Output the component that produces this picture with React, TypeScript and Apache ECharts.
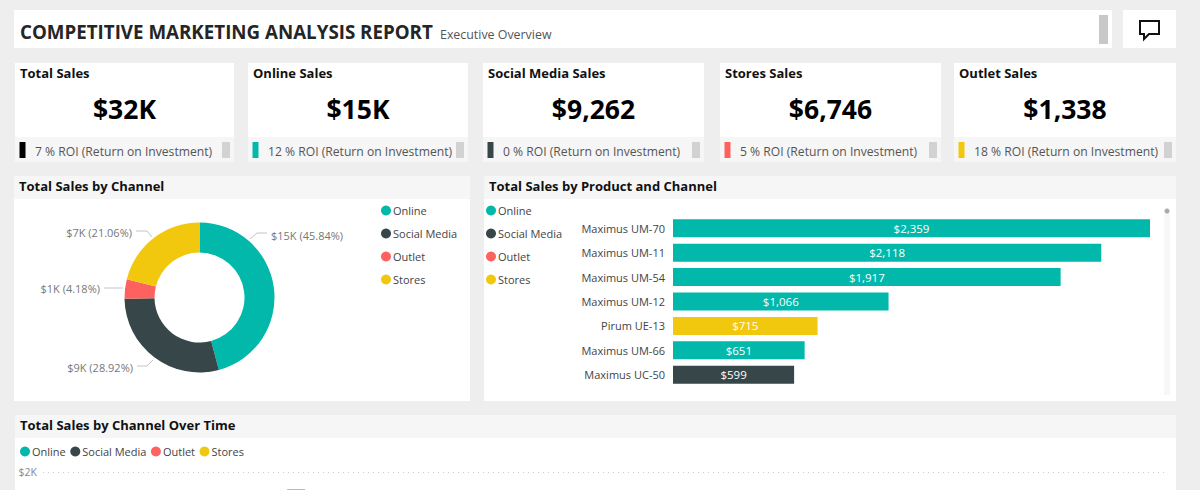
import React, { useEffect, useRef } from "react";
import * as echarts from "echarts";

const FONT = "'Open Sans', 'Noto Sans', sans-serif";
const TEAL = "#01B8AA", DARK = "#374649", RED = "#FD625E", YELLOW = "#F2C80F";

const reportTitle = "COMPETITIVE MARKETING ANALYSIS REPORT";
const reportSubtitle = "Executive Overview";

const kpiTitles = ["Total Sales", "Online Sales", "Social Media Sales", "Stores Sales", "Outlet Sales"];
const kpiValues = ["$32K", "$15K", "$9,262", "$6,746", "$1,338"];
const kpiRoi = [
  "7 % ROI (Return on Investment)",
  "12 % ROI (Return on Investment)",
  "0 % ROI (Return on Investment)",
  "5 % ROI (Return on Investment)",
  "18 % ROI (Return on Investment)",
];
const kpiColors = ["#000000", TEAL, DARK, RED, YELLOW];
const kpiLeft = [15, 248, 483, 720, 954];
const kpiWidth = [219, 220, 221, 221, 222];
const kpiStub = [222, 456, 692, 929, 1164];

const channels = ["Online", "Social Media", "Outlet", "Stores"];
const channelColors = [TEAL, DARK, RED, YELLOW];
const channelSales = [14683, 9262, 1338, 6746];
const channelLabels = ["$15K (45.84%)", "$9K (28.92%)", "$1K (4.18%)", "$7K (21.06%)"];
const channelLabelLayout = [
  { x: 271, y: 235, align: "left", labelLinePoints: [[250, 239], [257, 233], [267, 233]] },
  { x: 133, y: 367, align: "right", labelLinePoints: [[153, 360], [147, 366], [137, 366]] },
  { x: 100, y: 288.5, align: "right", labelLinePoints: [[123, 288], [113, 288], [104, 288]] },
  { x: 132, y: 232, align: "right", labelLinePoints: [[152, 237], [147, 231], [136, 231]] },
];

const products = ["Maximus UM-70", "Maximus UM-11", "Maximus UM-54", "Maximus UM-12", "Pirum UE-13", "Maximus UM-66", "Maximus UC-50"];
const productOnline = [2359, 2118, 1917, 1066, null, 651, null];
const productSocial = [null, null, null, null, null, null, 599];
const productOutlet = [null, null, null, null, null, null, null];
const productStores = [null, null, null, null, 715, null, null];

const timeCategories = ["1", "2", "3", "4", "5", "6", "7", "8", "9", "10", "11", "12", "13", "14", "15", "16", "17", "18", "19", "20"];
const timeOnline = [null, null, null, null, 1830, null, null, null, null, null, null, null, null, null, null, null, null, null, null, null];
const timeSocial: (number | null)[] = [];
const timeOutlet: (number | null)[] = [];
const timeStores: (number | null)[] = [];

function rect(x: number, y: number, w: number, h: number, fill: string) {
  return { type: "rect", shape: { x, y, width: w, height: h }, style: { fill } };
}
function text(x: number, y: number, t: string, size: number, fill: string, weight: any = "normal", align = "left", scaleX = 1) {
  return { type: "text", x, y, scaleX, style: { text: t, fontSize: size, fill, fontWeight: weight, fontFamily: FONT, align, verticalAlign: "middle" } };
}

export default function App() {
  const ref = useRef<HTMLDivElement>(null);
  useEffect(() => {
    document.body.style.margin = "0";
    const chart = echarts.init(ref.current!, undefined, { renderer: "svg" });
    const elements: any[] = [
      rect(14, 10, 1098, 38, "#ffffff"),
      rect(1123, 10, 53, 38, "#ffffff"),
      rect(1099, 15, 9, 29, "#c8c8c8"),
      text(20, 31, reportTitle, 20, "#252525", 700, "left", 0.937),
      text(440, 34, reportSubtitle, 12.4, "#555555"),
      { type: "polygon", shape: { points: [[1140, 21], [1159, 21], [1159, 34], [1149, 34], [1144, 39], [1144, 34], [1140, 34]] }, style: { fill: "none", stroke: "#111111", lineWidth: 2 } },
      rect(14, 176, 456, 23, "#f6f6f6"),
      rect(14, 199, 456, 202, "#ffffff"),
      text(19, 186, "Total Sales by Channel", 13, "#111111", 700),
      rect(484, 176, 692, 23, "#f6f6f6"),
      rect(484, 199, 692, 202, "#ffffff"),
      text(489, 186, "Total Sales by Product and Channel", 13, "#111111", 700),
      rect(1164, 212, 6, 183, "#f7f7f7"),
      { type: "circle", shape: { cx: 1167, cy: 211, r: 2.5 }, style: { fill: "#aaaaaa" } },
      rect(15, 415, 1161, 23, "#f6f6f6"),
      rect(15, 438, 1161, 52, "#ffffff"),
      text(20, 425, "Total Sales by Channel Over Time", 13, "#111111", 700),
    ];
    kpiTitles.forEach((title, i) => {
      const x = kpiLeft[i];
      elements.push(
        rect(x, 63, kpiWidth[i], 74, "#ffffff"),
        rect(x, 137, kpiWidth[i], 25, "#f6f6f6"),
        text(x + 5, 73, title, 13, "#111111", 700),
        text(x + kpiWidth[i] / 2, 109, kpiValues[i], 26.5, "#000000", 700, "center"),
        rect(x + 4.5, 142, 6, 16, kpiColors[i]),
        text(x + 20, 151, kpiRoi[i], 12.15, "#555555"),
        rect(kpiStub[i], 142, 8, 16, "#d2d2d2"),
      );
    });

    const legendBase = {
      icon: "circle", itemWidth: 10, itemHeight: 10,
      textStyle: { fontFamily: FONT, fontSize: 11, color: "#444444", padding: [0, 0, 0, -3] },
      selectedMode: false, data: channels,
    };
    const barLabel = {
      show: true, position: "inside", color: "#ffffff", fontFamily: FONT, fontSize: 11.5,
      formatter: (p: any) => "$" + Number(p.value).toLocaleString("en-US"),
    };
    const productSeries = [productOnline, productSocial, productOutlet, productStores];
    const timeSeries = [timeOnline, timeSocial, timeOutlet, timeStores];

    chart.setOption({
      animation: false,
      backgroundColor: "#eeeeee",
      graphic: { elements },
      legend: [
        { ...legendBase, orient: "vertical", left: 376, top: 200, itemGap: 12 },
        { ...legendBase, orient: "vertical", left: 481, top: 200, itemGap: 12 },
        { ...legendBase, orient: "horizontal", left: 15, top: 441, itemGap: 4.5 },
      ],
      grid: [
        { left: 673, top: 216, width: 477, height: 171, outerBoundsMode: "none" },
        { left: 43, top: 472, width: 1125, height: 200, outerBoundsMode: "none" },
      ],
      xAxis: [
        { gridIndex: 0, type: "value", min: 0, max: 2359, show: false },
        { gridIndex: 1, type: "category", data: timeCategories, axisLabel: { show: false }, axisLine: { show: false }, axisTick: { show: false } },
      ],
      yAxis: [
        {
          gridIndex: 0, type: "category", data: products, inverse: true,
          axisLine: { show: false }, axisTick: { show: false },
          axisLabel: { fontFamily: FONT, fontSize: 11, color: "#444444", margin: 8 },
        },
        {
          gridIndex: 1, type: "value", min: 0, max: 2000, interval: 2000,
          axisLine: { show: false }, axisTick: { show: false },
          axisLabel: { fontFamily: FONT, fontSize: 10.5, color: "#888888", margin: 6, formatter: (v: number) => (v ? "$2K" : "") },
          splitLine: { lineStyle: { type: [1, 4], color: "#cccccc", width: 1 } },
        },
      ],
      series: [
        {
          type: "pie", center: [199.5, 297.5], radius: [45, 75], startAngle: 90,
          data: channels.map((name, i) => ({ name, value: channelSales[i], itemStyle: { color: channelColors[i] } })),
          label: {
            fontFamily: FONT, fontSize: 11, color: "#777777",
            formatter: (p: any) => channelLabels[p.dataIndex],
          },
          labelLayout: (p: any) => ({ ...channelLabelLayout[p.dataIndex], verticalAlign: "middle" }),
          labelLine: { lineStyle: { color: "#c4c4c4", width: 1 } },
        },
        ...channels.map((name, i) => ({
          type: "bar", name, xAxisIndex: 0, yAxisIndex: 0, stack: "product", barWidth: 18,
          data: productSeries[i], itemStyle: { color: channelColors[i] }, label: barLabel,
        })),
        ...channels.map((name, i) => ({
          type: "bar", name, xAxisIndex: 1, yAxisIndex: 1, stack: "time", barWidth: 18,
          data: timeSeries[i], itemStyle: { color: channelColors[i], opacity: 0.55 },
        })),
      ],
    });
    return () => chart.dispose();
  }, []);
  return <div ref={ref} style={{ position: "fixed", left: 0, top: 0, width: 1200, height: 490 }} />;
}
